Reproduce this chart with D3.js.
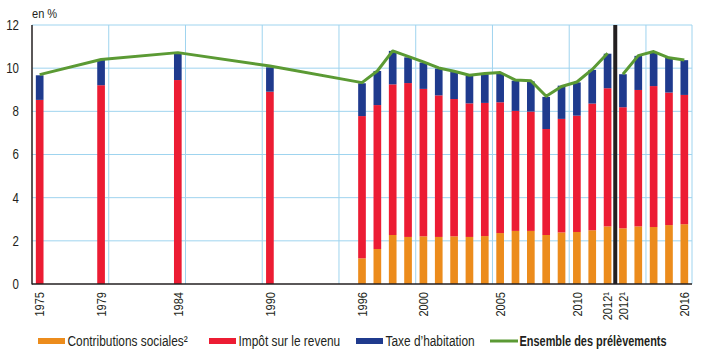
<!DOCTYPE html>
<html>
<head>
<meta charset="utf-8">
<script src="https://cdn.jsdelivr.net/npm/d3@7"></script>
<style>
  body { margin: 0; background: #fff; }
  svg text { font-family: "Liberation Sans Narrow", "Arial Narrow", "Liberation Sans", Arial, sans-serif; fill: #231f20; }
</style>
</head>
<body>
<svg id="chart" width="710" height="355"></svg>
<script>
// ---- data ----
const years = ["1975","1979","1984","1990","1996","1997","1998","1999","2000","2001","2002","2003","2004","2005","2006","2007","2008","2009","2010","2011","2012","2012r","2013","2014","2015","2016"];
const contributions = [0,0,0,0,1.19,1.62,2.27,2.18,2.21,2.18,2.21,2.18,2.22,2.36,2.46,2.46,2.27,2.39,2.41,2.49,2.67,2.58,2.67,2.64,2.73,2.77];
const impot = [8.53,9.21,9.45,8.91,6.59,6.67,6.98,7.13,6.83,6.56,6.36,6.19,6.17,6.06,5.56,5.53,4.91,5.26,5.39,5.87,6.40,5.61,6.32,6.53,6.14,5.99];
const taxe = [1.14,1.17,1.21,1.13,1.52,1.58,1.55,1.19,1.22,1.24,1.25,1.28,1.33,1.34,1.40,1.40,1.49,1.54,1.54,1.56,1.60,1.53,1.58,1.57,1.60,1.61];
const ensemble = [9.70,10.40,10.72,10.10,9.33,9.87,10.80,10.55,10.29,10.01,9.86,9.67,9.75,9.80,9.45,9.42,8.70,9.15,9.36,9.94,10.69,9.72,10.58,10.77,10.48,10.38];
const tickYears = ["1975","1979","1984","1990","1996","2000","2005","2010","2012","2012r","2016"];
const tickLabels = ["1975","1979","1984","1990","1996","2000","2005","2010","2012\u00b9","2012\u00b9","2016"];
const yTicks = [0,2,4,6,8,10,12];
const seriesNames = ["Contributions sociales\u00b2","Imp\u00f4t sur le revenu","Taxe d\u2019habitation","Ensemble des pr\u00e9l\u00e8vements"];

// ---- layout ----
const colors = { c: "#ec8c1c", i: "#ec1c33", t: "#1f3a8d", line: "#5b9a34", grid: "#9fd4ef" };
const mLeft = 32, mRight = 692, mTop = 25, mBottom = 284;
const narrow = 0.82, narrowBold = 0.755;

// slot domain: every year 1975..2016 with an extra slot for the second 2012
const slots = d3.range(1975, 2013).map(String).concat(["2012r"]).concat(d3.range(2013, 2017).map(String));

const x = d3.scaleBand().domain(slots).range([mLeft, mRight]).paddingInner(0.5).paddingOuter(0.25);
const y = d3.scaleLinear().domain([0, 12]).range([mBottom, mTop]);
const step = x.step();
const boundary = i => mLeft + i * step;

const svg = d3.select("#chart");

// gridlines
svg.append("g").selectAll("line").data(yTicks.filter(d => d > 0)).join("line")
  .attr("x1", mLeft).attr("x2", mRight).attr("y1", d => y(d)).attr("y2", d => y(d))
  .attr("stroke", colors.grid).attr("stroke-width", 1);
const vIdx = [5,10,15,20,25,30,35,40,43];
svg.append("g").selectAll("line").data(vIdx).join("line")
  .attr("x1", boundary).attr("x2", boundary).attr("y1", mTop).attr("y2", mBottom)
  .attr("stroke", colors.grid).attr("stroke-width", 1);

// data rows
const rows = years.map((yr, k) => ({ year: yr, c: contributions[k], i: impot[k], t: taxe[k] }));
const stack = d3.stack().keys(["c", "i", "t"])(rows);

svg.append("g").selectAll("g").data(stack).join("g")
  .attr("fill", d => colors[d.key])
  .selectAll("rect").data(d => d).join("rect")
  .attr("x", d => x(d.data.year))
  .attr("width", x.bandwidth())
  .attr("y", d => y(d[1]))
  .attr("height", d => y(d[0]) - y(d[1]));

// separator between the two 2012 series
const sepX = boundary(slots.indexOf("2012r"));
svg.append("line").attr("x1", sepX).attr("x2", sepX).attr("y1", mTop).attr("y2", mBottom)
  .attr("stroke", "#231f20").attr("stroke-width", 4);

// ensemble line (two segments)
const pts = years.map((yr, k) => ({ year: yr, v: ensemble[k] }));
const split = years.indexOf("2012r");
const line = d3.line().x(d => x(d.year) + x.bandwidth() / 2).y(d => y(d.v));
[pts.slice(0, split), pts.slice(split)].forEach(seg => {
  svg.append("path").datum(seg).attr("d", line)
    .attr("fill", "none").attr("stroke", colors.line).attr("stroke-width", 3).attr("stroke-linejoin", "round");
});

// axes lines
svg.append("line").attr("x1", mLeft).attr("x2", mLeft).attr("y1", mTop).attr("y2", mBottom + 0.5)
  .attr("stroke", "#231f20").attr("stroke-width", 1.5);
svg.append("line").attr("x1", mLeft).attr("x2", mRight).attr("y1", mBottom).attr("y2", mBottom)
  .attr("stroke", "#231f20").attr("stroke-width", 1.5);

// y tick labels (horizontally condensed to mimic a narrow typeface)
svg.append("g").selectAll("text").data(yTicks).join("text")
  .attr("transform", d => `translate(19,${y(d)}) scale(${narrow},1)`)
  .attr("dy", "0.35em").attr("text-anchor", "end").attr("font-size", 14).text(d => d);
svg.append("text").attr("transform", `translate(32,18) scale(${narrow},1)`)
  .attr("font-size", 13.5).text("en %");

// x tick labels
svg.append("g").selectAll("text").data(tickYears).join("text")
  .attr("transform", d => `translate(${x(d) + x.bandwidth() / 2},292) rotate(-90) scale(${narrow},1)`)
  .attr("dy", "0.35em").attr("text-anchor", "end").attr("font-size", 13.5)
  .text((d, k) => tickLabels[k]);

// legend
const legend = svg.append("g");
const lx = [38, 209, 356, 490];
const lcol = [colors.c, colors.i, colors.t, colors.line];
seriesNames.forEach((name, k) => {
  if (k < 3) {
    legend.append("rect").attr("x", lx[k]).attr("y", 338).attr("width", 27).attr("height", 6).attr("fill", lcol[k]);
  } else {
    legend.append("line").attr("x1", lx[k]).attr("x2", lx[k] + 28).attr("y1", 341).attr("y2", 341)
      .attr("stroke", lcol[k]).attr("stroke-width", 3);
  }
  const r = k === 3 ? narrowBold : narrow;
  legend.append("text").attr("transform", `translate(${lx[k] + 29.5},341) scale(${r},1)`)
    .attr("dy", "0.35em")
    .attr("font-size", 14.5).attr("font-weight", k === 3 ? "bold" : "normal").text(name);
});
</script>
</body>
</html>
